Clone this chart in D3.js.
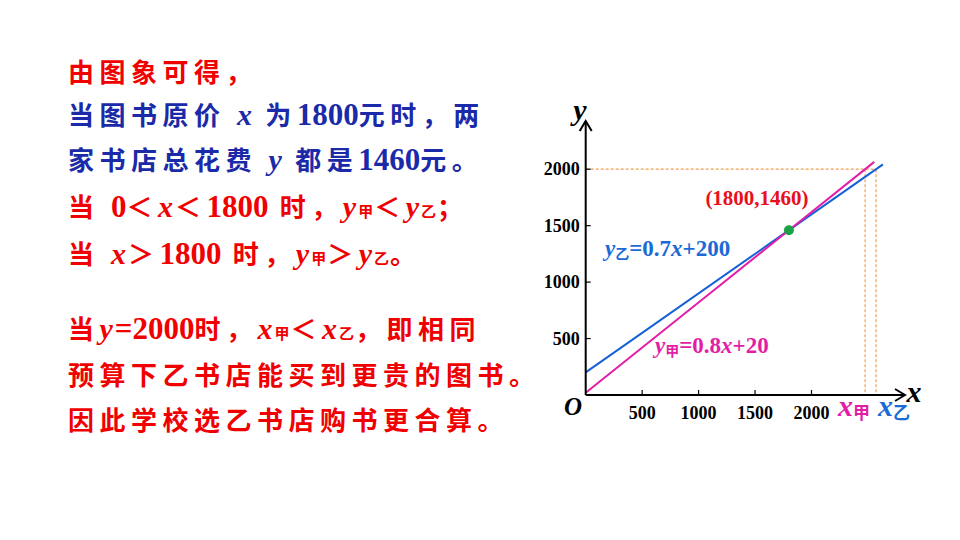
<!DOCTYPE html>
<html><head><meta charset="utf-8">
<script src="https://cdn.jsdelivr.net/npm/d3@7"></script>
<style>body{margin:0;background:#fff}</style>
</head><body><svg id="c" width="960" height="540"></svg>
<script>
// DATA
const xTicks = [500, 1000, 1500, 2000];
const yTicks = [500, 1000, 1500, 2000];
const lineJia = {k: 0.8, b: 20, xEnd: 2556};   // y甲 = 0.8x + 20
const lineYi = {k: 0.7, b: 200, xEnd: 2633};   // y乙 = 0.7x + 200
const meet = [1800, 1460];
const budget = 2000;

const svg = d3.select('#c');
const x = d3.scaleLinear().domain([0, 1000]).range([585.7, 698.6]);
const y = d3.scaleLinear().domain([0, 1000]).range([395, 282.1]);
const serif = '"Liberation Serif", "Times New Roman", serif';
const cjk = '"Noto Sans CJK SC", sans-serif';

// left text
const RED = '#f00000', BLUE = '#1a2aa8';
const lines = [
  {y: 82, c: RED, parts: [['由图象可得，']]},
  {y: 125, c: BLUE, parts: [['当图书原价 '], ['x', 'i'], [' 为'], ['1800', 'n'], ['元时，两']]},
  {y: 170, c: BLUE, parts: [['家书店总花费 '], ['y', 'i'], [' 都是'], ['1460', 'n'], ['元。']]},
  {y: 217, c: RED, parts: [['当 '], ['0', 'n'], ['＜'], ['x', 'i'], ['＜'], ['1800', 'n'], [' 时，'], ['y', 'i'], ['甲', 's'], ['＜'], ['y', 'i'], ['乙', 's'], ['；']]},
  {y: 264, c: RED, parts: [['当 '], ['x', 'i'], ['＞'], ['1800', 'n'], [' 时，'], ['y', 'i'], ['甲', 's'], ['＞'], ['y', 'i'], ['乙', 's'], ['。']]},
  {y: 339, c: RED, parts: [['当'], ['y', 'i'], ['=2000', 'n'], ['时，'], ['x', 'i'], ['甲', 's'], ['＜'], ['x', 'i'], ['乙', 's'], ['，即相同']]},
  {y: 385, c: RED, parts: [['预算下乙书店能买到更贵的图书。']]},
  {y: 430, c: RED, parts: [['因此学校选乙书店购书更合算。']]}
];
lines.forEach(l => {
  const t = svg.append('text').attr('x', 68).attr('y', l.y).attr('fill', l.c)
    .attr('font-weight', 'bold').attr('font-size', 26).attr('font-family', cjk)
    .attr('letter-spacing', 5.5);
  l.parts.forEach(([s, m]) => {
    const ts = t.append('tspan').text(s);
    if (m === 'i') ts.attr('font-family', serif).attr('font-style', 'italic').attr('font-size', 30).attr('letter-spacing', 2);
    if (m === 'n') ts.attr('font-family', serif).attr('font-size', 31).attr('letter-spacing', 0);
    if (m === 's') ts.attr('font-size', 15).attr('letter-spacing', 1);
  });
});

// dashed guides
const dash = svg.append('g').attr('stroke', '#f0a050').attr('stroke-width', 1.2).attr('stroke-dasharray', '3,2').attr('fill', 'none');
const xj = (budget - lineJia.b) / lineJia.k, xy = (budget - lineYi.b) / lineYi.k;
dash.append('line').attr('x1', x(0)).attr('x2', x(xy)).attr('y1', y(budget)).attr('y2', y(budget));
dash.append('line').attr('x1', x(xj)).attr('x2', x(xj)).attr('y1', y(budget)).attr('y2', y(0));
dash.append('line').attr('x1', x(xy)).attr('x2', x(xy)).attr('y1', y(budget)).attr('y2', y(0));

// lines
[[lineYi, '#1560d8'], [lineJia, '#e21ea6']].forEach(([l, c]) => {
  svg.append('path').attr('fill', 'none').attr('stroke', c).attr('stroke-width', 2)
    .attr('d', d3.line().x(d => x(d)).y(d => y(l.k * d + l.b))([0, l.xEnd]));
});

// axes
const ax = svg.append('g').attr('stroke', '#000').attr('stroke-width', 2).attr('fill', 'none');
ax.append('line').attr('x1', x(0)).attr('x2', 905).attr('y1', y(0)).attr('y2', y(0));
ax.append('path').attr('d', `M895,${y(0) - 6}L905,${y(0)}L895,${y(0) + 6}`);
ax.append('line').attr('x1', x(0)).attr('x2', x(0)).attr('y1', y(0)).attr('y2', 121);
ax.append('path').attr('d', `M${x(0) - 6},131L${x(0)},121L${x(0) + 6},131`);
xTicks.forEach(v => ax.append('line').attr('stroke-width', 1.2).attr('x1', x(v)).attr('x2', x(v)).attr('y1', y(0)).attr('y2', y(0) - 5));
yTicks.forEach(v => ax.append('line').attr('stroke-width', 1.2).attr('x1', x(0)).attr('x2', x(0) + 5).attr('y1', y(v)).attr('y2', y(v)));

const lab = (tx, ty, s, o = {}) => svg.append('text').attr('x', tx).attr('y', ty).text(s)
  .attr('font-family', serif).attr('font-weight', 'bold').attr('font-size', o.size || 18)
  .attr('fill', o.c || '#000').attr('font-style', o.it ? 'italic' : null)
  .attr('text-anchor', o.a || 'middle');
xTicks.forEach(v => lab(x(v), 419, v));
yTicks.forEach(v => lab(x(0) - 6, y(v) + 6, v, {a: 'end'}));
lab(573, 415, 'O', {it: 1, size: 25});
lab(914, 402, 'x', {it: 1, size: 30});
lab(580, 120, 'y', {it: 1, size: 30});

// x甲, x乙
const sub = (tx, ty, s, subs, c) => {
  const t = svg.append('text').attr('x', tx).attr('y', ty).attr('fill', c).attr('font-weight', 'bold');
  t.append('tspan').text(s).attr('font-family', serif).attr('font-style', 'italic').attr('font-size', 30);
  t.append('tspan').text(subs).attr('font-family', cjk).attr('font-size', 17).attr('dy', 3);
  return t;
};
sub(838, 416, 'x', '甲', '#e21ea6');
sub(878, 416, 'x', '乙', '#1a6ad8');

// equations
const eq = (tx, ty, subs, rest, c) => {
  const t = svg.append('text').attr('x', tx).attr('y', ty).attr('fill', c).attr('font-weight', 'bold').attr('font-family', serif).attr('font-size', 23);
  t.append('tspan').text('y').attr('font-style', 'italic');
  t.append('tspan').text(subs).attr('font-family', cjk).attr('font-size', 14).attr('dy', 3);
  t.append('tspan').text('=' + rest[0]).attr('dy', -3);
  t.append('tspan').text('x').attr('font-style', 'italic');
  t.append('tspan').text(rest[1]);
};
eq(605, 256, '乙', ['0.7', '+200'], '#1a6ad8');
eq(655, 353, '甲', ['0.8', '+20'], '#e21ea6');

lab(757, 205, `(${meet[0]},${meet[1]})`, {c: '#e8101a', size: 21});
svg.append('circle').attr('cx', x(meet[0])).attr('cy', y(meet[1])).attr('r', 5).attr('fill', '#1ba048');
</script></body></html>
